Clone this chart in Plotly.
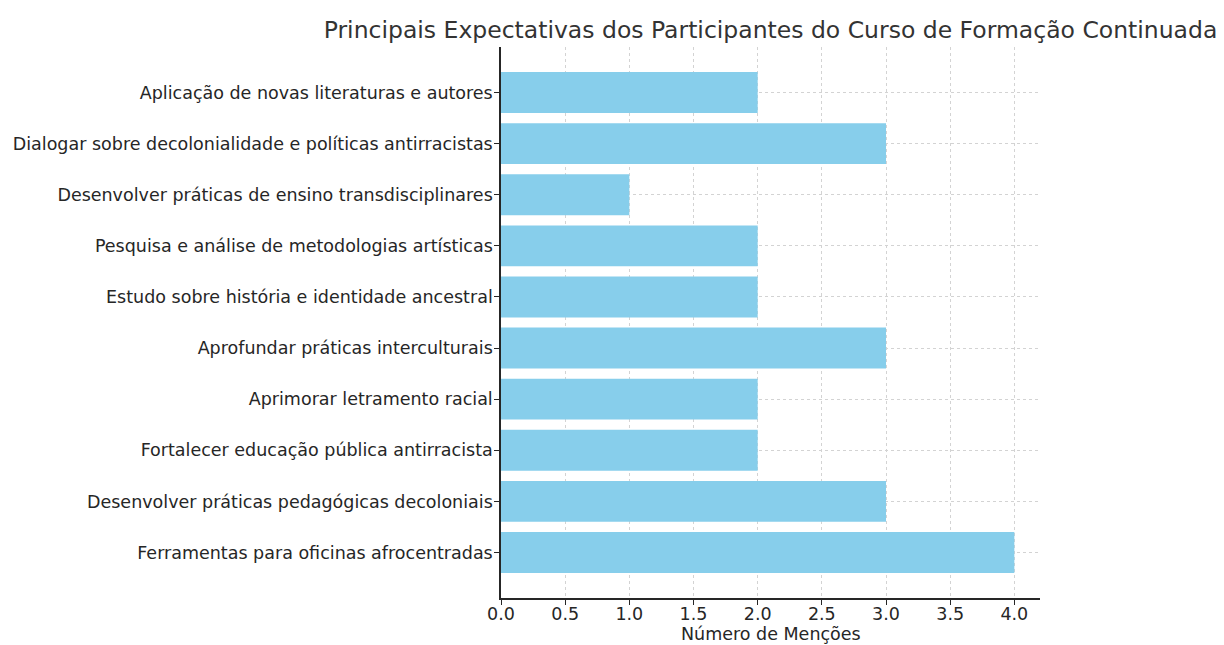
import plotly.graph_objects as go

# expectativas, de cima para baixo como aparecem no grafico
expectativas = [
    "Aplicação de novas literaturas e autores",
    "Dialogar sobre decolonialidade e políticas antirracistas",
    "Desenvolver práticas de ensino transdisciplinares",
    "Pesquisa e análise de metodologias artísticas",
    "Estudo sobre história e identidade ancestral",
    "Aprofundar práticas interculturais",
    "Aprimorar letramento racial",
    "Fortalecer educação pública antirracista",
    "Desenvolver práticas pedagógicas decoloniais",
    "Ferramentas para oficinas afrocentradas",
]
mencoes = [2, 3, 1, 2, 2, 3, 2, 2, 3, 4]

x_ticks = [0.0, 0.5, 1.0, 1.5, 2.0, 2.5, 3.0, 3.5, 4.0]
x_tick_labels = ["0.0", "0.5", "1.0", "1.5", "2.0", "2.5", "3.0", "3.5", "4.0"]

font = "DejaVu Sans, sans-serif"
text_color = "#262626"

# the page body adds an 8px margin, so the figure is 8px smaller
W, H = 1216, 637

fig = go.Figure(
    go.Bar(
        x=mencoes,
        y=expectativas,
        orientation="h",
        marker={"color": "#87CEEB", "line": {"width": 0}},
        width=0.8,
    )
)

n = len(expectativas)
fig.update_layout(
    width=W,
    height=H,
    margin={"l": 493, "r": 184, "t": 39, "b": 47},
    plot_bgcolor="white",
    paper_bgcolor="white",
    font={"family": font, "size": 17.5, "color": text_color},
    title={
        "text": "Principais Expectativas dos Participantes do Curso de Formação Continuada",
        "x": 762.5 / W,
        "xanchor": "center",
        "y": 1 - 22 / H,
        "yanchor": "middle",
        "font": {"size": 23.5, "color": "#333333"},
    },
    showlegend=False,
)

# x axis title as annotation so it sits just under the tick labels
fig.add_annotation(
    text="Número de Menções",
    x=0.5,
    xref="paper",
    y=0,
    yref="paper",
    yanchor="middle",
    yshift=-36,
    showarrow=False,
    borderpad=0,
    font={"size": 17.5, "color": text_color},
)

fig.update_xaxes(
    range=[0, 4.2],
    tickvals=x_ticks,
    ticktext=x_tick_labels,
    ticks="outside",
    ticklen=5,
    tickcolor=text_color,
    ticklabelstandoff=-6,
    showline=True,
    linecolor=text_color,
    linewidth=1.5,
    showgrid=True,
    gridcolor="#d3d3d3",
    griddash="3px,3px",
    gridwidth=0.8,
    zeroline=False,
    automargin=False,
)

fig.update_yaxes(
    range=[n - 1 + 0.89, -0.89],
    ticks="outside",
    ticklen=5,
    tickcolor=text_color,
    ticklabelstandoff=-2,
    showline=True,
    linecolor=text_color,
    linewidth=1.5,
    showgrid=True,
    gridcolor="#d3d3d3",
    griddash="3px,3px",
    gridwidth=0.8,
    zeroline=False,
    automargin=False,
)

fig.write_html("out.html")
